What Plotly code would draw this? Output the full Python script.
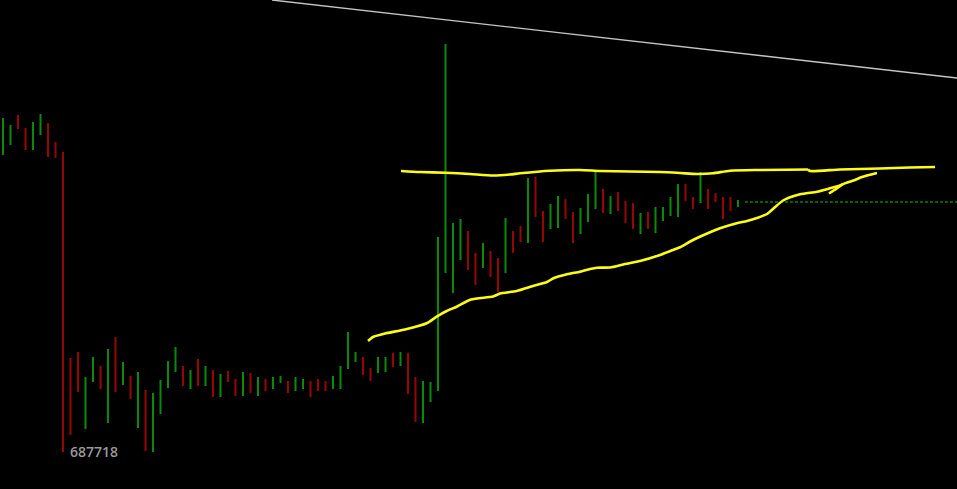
import plotly.graph_objects as go

# ---- price bars (arbitrary price units; high / low per bar) ----
directions = ("GGRRGGRRRR" "RGGRGRGRGR" "GGGGRGRGRG" "RRGRGRGGRG" "GRRRGGGGRR"
              "GGRGRRGGGG" "GGRRGRRGRR" "GRRGGRRGGG" "RGRRRGRGGG" "GRRGRRRRG")
highs = [371, 364, 374, 361, 367, 375, 366, 347, 337, 131,
         137, 112, 132, 123, 140, 152, 127, 113, 117, 99,
         96, 109, 128, 142, 123, 119, 130, 123, 119, 115,
         118, 110, 117, 116, 112, 110, 112, 113, 108, 112,
         110, 108, 110, 108, 113, 123, 157, 137, 132, 121,
         132, 132, 136, 137, 136, 112, 108, 107, 252, 445,
         266, 270, 258, 236, 246, 238, 231, 271, 258, 263,
         311, 312, 278, 285, 293, 290, 277, 281, 295, 317,
         300, 293, 297, 288, 286, 276, 277, 282, 282, 292,
         305, 305, 292, 317, 300, 296, 292, 292, 289]
lows = [334, 344, 360, 339, 339, 354, 332, 331, 37, 54,
        97, 60, 107, 100, 66, 97, 104, 90, 61, 38,
        37, 75, 101, 117, 103, 100, 103, 103, 92, 92,
        107, 93, 93, 96, 93, 98, 100, 106, 96, 98,
        100, 92, 98, 98, 100, 100, 120, 127, 114, 108,
        116, 117, 122, 123, 95, 67, 66, 87, 98, 216,
        196, 229, 219, 204, 221, 212, 197, 216, 236, 247,
        246, 272, 247, 260, 261, 270, 246, 255, 267, 280,
        276, 275, 278, 266, 260, 255, 260, 256, 268, 273,
        272, 288, 280, 286, 280, 287, 270, 278, 282]

# ---- hand drawn lines (bar index, price) ----
resist_x = [53.07, 55.6, 58.93, 62.27, 65.33, 67.6, 68.93, 72.93, 76.93, 79.6,
            83.6, 87.6, 90.27, 92.53, 94.67, 96.93, 100.93, 107.33]
resist_y = [318, 317, 316.3, 315, 313.5, 314.5, 315.7, 318.3, 319, 318,
            317.5, 317, 316, 315, 315.7, 318.3, 319, 319.5]
resist2_x = [107.33, 107.6, 111.6, 116.93, 120.93, 124.27]
resist2_y = [319.5, 318, 319.5, 320.5, 321.5, 322]
support_x = [48.67, 49.33, 50.93, 53.6, 56.49, 57.83, 59.16, 60.49, 62.4, 65.33,
             66.27, 68.49, 70.67, 72.53, 73.33, 75.2, 76.93, 78.27, 79.2, 80.93,
             82.93, 84.93, 87.6, 89.33, 90.27, 92, 94.67, 95.6, 97.83, 99.2,
             100.53, 101.87, 104, 106.27, 108.53, 110.27, 111.87]
support_y = [148, 152, 155.5, 159.5, 165.7, 172.3, 178, 182.3, 189.5, 192.5,
             195.5, 198, 203, 207, 210.5, 214.7, 217.3, 220, 221.3, 221.5,
             225, 228, 234, 239, 241.7, 249, 258, 260.7, 265.7, 268,
             271, 275, 288.5, 294.7, 297.3, 300.7, 304]
support2_x = [110.13, 111.07, 111.87, 113.6, 114.53, 116.53]
support2_y = [295.5, 300, 304.5, 309, 312, 316]
diag_x = [35.87, 127.2]
diag_y = [489, 411]
last_price = 287
last_price_x = [98.93, 127.2]
low_label = "687718"
low_label_x = 8.7
low_label_y = 38

GREEN = "#0a8a0a"
RED = "#960606"
YELLOW = "#ffff14"

fig = go.Figure()

for code, color in (("G", GREEN), ("R", RED)):
    xs, ys = [], []
    for i, d in enumerate(directions):
        if d == code:
            xs += [i, i, None]
            ys += [lows[i], highs[i], None]
    fig.add_trace(go.Scatter(x=xs, y=ys, mode="lines",
                             line=dict(color=color, width=2),
                             hoverinfo="skip", showlegend=False))

fig.add_trace(go.Scatter(x=last_price_x, y=[last_price, last_price], mode="lines",
                         line=dict(color="#0d800d", width=1.4, dash="3px,2px"),
                         hoverinfo="skip", showlegend=False))

fig.add_trace(go.Scatter(x=diag_x, y=diag_y, mode="lines",
                         line=dict(color="#c4c4c4", width=1.4),
                         hoverinfo="skip", showlegend=False))

for lx, ly in ((resist_x, resist_y), (resist2_x, resist2_y),
               (support_x, support_y), (support2_x, support2_y)):
    fig.add_trace(go.Scatter(x=lx, y=ly, mode="lines",
                             line=dict(color=YELLOW, width=2.6, shape="spline", smoothing=0.6),
                             hoverinfo="skip", showlegend=False))

fig.add_annotation(x=low_label_x, y=low_label_y, text=low_label, showarrow=False,
                   xanchor="left", yanchor="middle",
                   font=dict(family="Open Sans", size=14, color="#9a9a9a", weight=600))

fig.update_layout(
    width=957, height=489,
    margin=dict(l=0, r=0, t=0, b=0),
    paper_bgcolor="#000000", plot_bgcolor="#000000",
    showlegend=False,
    xaxis=dict(range=[-0.4, 127.2], visible=False, showgrid=False, zeroline=False),
    yaxis=dict(range=[0, 489], visible=False, showgrid=False, zeroline=False),
)

fig.write_html(
    "out.html",
    config={"displayModeBar": False},
    post_script="document.body.style.margin='0';document.body.style.background='#000';"
                "document.body.style.overflow='hidden';",
)
